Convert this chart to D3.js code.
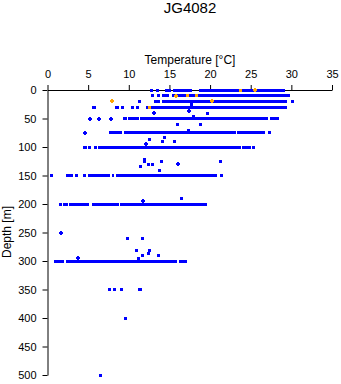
<!DOCTYPE html>
<html>
<head>
<meta charset="utf-8">
<script src="https://cdn.jsdelivr.net/npm/d3@7/dist/d3.min.js"></script>
<style>
  html, body { margin: 0; padding: 0; background: #fff; }
  svg { display: block; font-family: "Liberation Sans", Arial, sans-serif; }
</style>
</head>
<body>
<svg id="chart" width="341" height="384"></svg>
<script>
// ---- data ----
const title = "JG4082";
const xLabel = "Temperature [°C]";
const yLabel = "Depth [m]";
const xTicks = [0, 5, 10, 15, 20, 25, 30, 35];
const yTicks = [0, 50, 100, 150, 200, 250, 300, 350, 400, 450, 500];

// dense runs of blue measurements: [depth, tempFrom, tempTo]
const blueRuns = [
  [0, 12.6, 12.95], [0, 13.3, 13.7], [0, 14.45, 15.2], [0, 15.45, 17.75], [0, 18.6, 29.2],
  [10, 12.73, 13.06], [10, 13.47, 13.84], [10, 14.08, 14.94], [10, 15.3, 29.8],
  [20, 13.1, 13.9], [20, 14.08, 29.5],
  [30, 5.47, 5.97], [30, 8.3, 8.83], [30, 9.04, 9.41], [30, 10.27, 10.64], [30, 10.89, 11.25],
  [30, 12.08, 12.45], [30, 12.73, 29.42],
  [50, 9.32, 9.74], [50, 9.94, 11.25], [50, 11.38, 27.08], [50, 27.37, 28.47],
  [75, 7.56, 9.13], [75, 9.41, 23.15], [75, 23.27, 26.75], [75, 27.08, 27.45],
  [100, 4.4, 4.82], [100, 4.98, 5.31], [100, 5.72, 6.13], [100, 6.25, 23.8],
  [100, 23.92, 25.03], [100, 25.15, 25.52],
  [150, 0.31, 0.64], [150, 2.25, 3.1], [150, 3.38, 3.79], [150, 4.33, 4.74], [150, 5.02, 7.69],
  [150, 7.9, 8.18], [150, 8.39, 20.85], [150, 21.2, 21.55],
  [200, 1.41, 1.82], [200, 1.94, 2.56], [200, 2.64, 5.14], [200, 5.44, 8.79], [200, 8.92, 19.58],
  [300, 0.8, 2.03], [300, 2.28, 15.89], [300, 16.14, 17.12],
  [350, 7.48, 7.81], [350, 8.02, 8.43], [350, 8.92, 9.32], [350, 11.09, 11.66]
];

// isolated blue measurements: [temp, depth]
const bluePoints = [
  [11.3, 20], [30.2, 20], [17.7, 25], [19.7, 41], [17.9, 47],
  [16.0, 61], [18.8, 61], [17.4, 71], [12.6, 86], [14.4, 84], [14.1, 91], [15.6, 91],
  [11.9, 122], [11.9, 126], [12.4, 130], [12.9, 130], [11.5, 135], [14.0, 126], [13.8, 141],
  [21.3, 126], [16.5, 191],
  [9.8, 260], [11.7, 260], [11.0, 281], [12.6, 281], [12.4, 287], [11.7, 291], [13.6, 291],
  [11.2, 296], [9.6, 400], [6.5, 500]
];
const bluePlus = [
  [13.1, 41], [17.4, 37], [5.2, 50], [6.3, 50], [7.8, 50], [4.6, 75], [12.1, 95],
  [16.1, 130], [11.8, 195], [1.7, 251], [3.8, 294]
];

// orange measurements: [temp, depth]
const orangePoints = [[23.7, 0], [17.2, 10], [18.3, 10], [12.5, 30]];
const orangePlus = [[25.5, 0], [15.8, 10], [7.9, 20], [20.2, 20]];

// ---- drawing ----
const BLUE = "#0000ff", ORANGE = "#ffa500";
const svg = d3.select("#chart");
const x = d3.scaleLinear().domain([0, 35]).range([47.5, 332]);
const y = d3.scaleLinear().domain([0, 500]).range([90, 375]);

svg.append("text").attr("x", 190).attr("y", 13).attr("text-anchor", "middle")
  .attr("font-size", 15).text(title);
svg.append("text").attr("x", 190).attr("y", 64).attr("text-anchor", "middle")
  .attr("font-size", 12).text(xLabel);
svg.append("text").attr("transform", "translate(11,232) rotate(-90)")
  .attr("text-anchor", "middle").attr("font-size", 12).text(yLabel);

const xAxis = svg.append("g").attr("transform", "translate(0,90)")
  .call(d3.axisTop(x).tickValues(xTicks).tickSize(5).tickSizeOuter(0).tickPadding(7));
const yAxis = svg.append("g").attr("transform", "translate(47.5,0)")
  .call(d3.axisLeft(y).tickValues(yTicks).tickSize(5).tickSizeOuter(0).tickPadding(6));
[xAxis, yAxis].forEach(g => {
  g.selectAll("text").attr("font-size", 11).attr("font-family", "Liberation Sans, Arial, sans-serif").attr("fill", "#000");
  g.selectAll("path,line").attr("stroke", "#000");
});

const marks = svg.append("g").attr("shape-rendering", "crispEdges");

marks.selectAll("rect.run").data(blueRuns).join("rect")
  .attr("x", d => x(d[1]))
  .attr("y", d => y(d[0]) - 1.5)
  .attr("width", d => Math.max(2.5, x(d[2]) - x(d[1])))
  .attr("height", 3)
  .attr("fill", BLUE);

function squares(data, color) {
  marks.append("g").selectAll("rect").data(data).join("rect")
    .attr("x", d => x(d[0]) - 1.5).attr("y", d => y(d[1]) - 1.5)
    .attr("width", 3).attr("height", 3).attr("fill", color);
}
function pluses(data, color) {
  const g = marks.append("g");
  g.selectAll("rect.h").data(data).join("rect")
    .attr("x", d => x(d[0]) - 2).attr("y", d => y(d[1]) - 1)
    .attr("width", 4).attr("height", 2).attr("fill", color);
  g.selectAll("rect.v").data(data).join("rect")
    .attr("x", d => x(d[0]) - 1).attr("y", d => y(d[1]) - 2)
    .attr("width", 2).attr("height", 4).attr("fill", color);
}
squares(bluePoints, BLUE);
pluses(bluePlus, BLUE);
squares(orangePoints, ORANGE);
pluses(orangePlus, ORANGE);
</script>
</body>
</html>
